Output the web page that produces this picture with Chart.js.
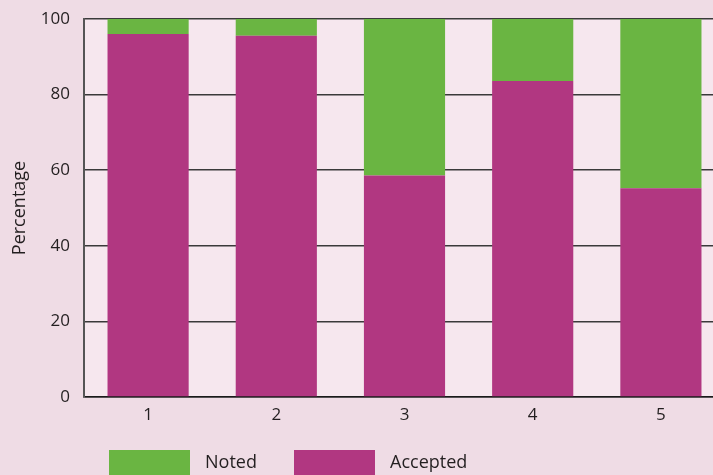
<!DOCTYPE html>
<html>
<head>
<meta charset="utf-8">
<script src="https://cdn.jsdelivr.net/npm/chart.js@4.4.1/dist/chart.umd.min.js"></script>
<style>
  html, body { margin: 0; padding: 0; background: #efdce5; overflow: hidden; }
  #wrap { position: relative; width: 725px; height: 475px; }
  #legend { position: absolute; top: 450px; left: 0; font-family: "Open Sans", sans-serif; font-size: 18px; color: #231f20; }
  .lg-item { position: absolute; top: 0; white-space: nowrap; }
  .lg-box { position: absolute; top: 0; width: 81px; height: 30px; }
  .lg-text { position: absolute; top: -1px; }
</style>
</head>
<body>
<div id="wrap">
  <canvas id="myChart" width="725" height="475"></canvas>
  <div id="legend"></div>
</div>
<script>
const categories = ['1', '2', '3', '4', '5'];
const accepted = [96.0, 95.6, 58.6, 83.6, 55.2];
const noted = [4.0, 4.4, 41.4, 16.4, 44.8];
const yTicks = [0, 20, 40, 60, 80, 100];

const magenta = '#b13781';
const green = '#6ab542';
const fontFamily = '"Open Sans", sans-serif';

// plot area background
const plotBg = {
  id: 'plotBg',
  beforeDraw(chart) {
    const { ctx, chartArea } = chart;
    ctx.save();
    ctx.fillStyle = '#f6e7ee';
    ctx.fillRect(chartArea.left, chartArea.top, chartArea.right - chartArea.left, chartArea.bottom - chartArea.top);
    ctx.restore();
  }
};

const ctx = document.getElementById('myChart').getContext('2d');
const chart = new Chart(ctx, {
  type: 'bar',
  data: {
    labels: categories,
    datasets: [
      { label: 'Accepted', data: accepted, backgroundColor: magenta, borderWidth: 0 },
      { label: 'Noted', data: noted, backgroundColor: green, borderWidth: 0 }
    ]
  },
  options: {
    responsive: false,
    animation: false,
    layout: { padding: { top: 19, right: 0, bottom: 48, left: 0 } },
    datasets: { bar: { categoryPercentage: 1, barPercentage: 0.633 } },
    plugins: {
      legend: { display: false },
      tooltip: { enabled: false }
    },
    scales: {
      x: {
        stacked: true,
        afterFit(scale) { scale.height = 30; scale.paddingLeft = 0; scale.paddingRight = 0; },
        grid: { display: false, drawTicks: false },
        border: { display: true, color: '#1a1a1a', width: 1.5 },
        ticks: { color: '#231f20', padding: 8, font: { family: fontFamily, size: 17 } }
      },
      y: {
        stacked: true,
        min: 0,
        max: 100,
        afterFit(scale) { scale.width = 84; scale.paddingTop = 0; scale.paddingBottom = 0; },
        afterBuildTicks(scale) { scale.ticks = yTicks.map(v => ({ value: v })); },
        grid: { color: '#3a3a3a', lineWidth: 1.6, drawTicks: false },
        border: { display: true, color: '#555', width: 2 },
        ticks: { color: '#231f20', padding: 14, font: { family: fontFamily, size: 17 } },
        title: {
          display: true,
          text: 'Percentage',
          color: '#231f20',
          padding: { top: 9, bottom: 0 },
          font: { family: fontFamily, size: 18 }
        }
      }
    }
  },
  plugins: [plotBg]
});

// legend below the chart, Noted first
const legendItems = [
  { label: 'Noted', color: green, x: 109 },
  { label: 'Accepted', color: magenta, x: 294 }
];
const legend = document.getElementById('legend');
legendItems.forEach(item => {
  const el = document.createElement('div');
  el.className = 'lg-item';
  el.style.left = item.x + 'px';
  el.innerHTML = '<div class="lg-box" style="background:' + item.color + '"></div>' +
    '<div class="lg-text" style="left:96px">' + item.label + '</div>';
  legend.appendChild(el);
});
</script>
</body>
</html>
